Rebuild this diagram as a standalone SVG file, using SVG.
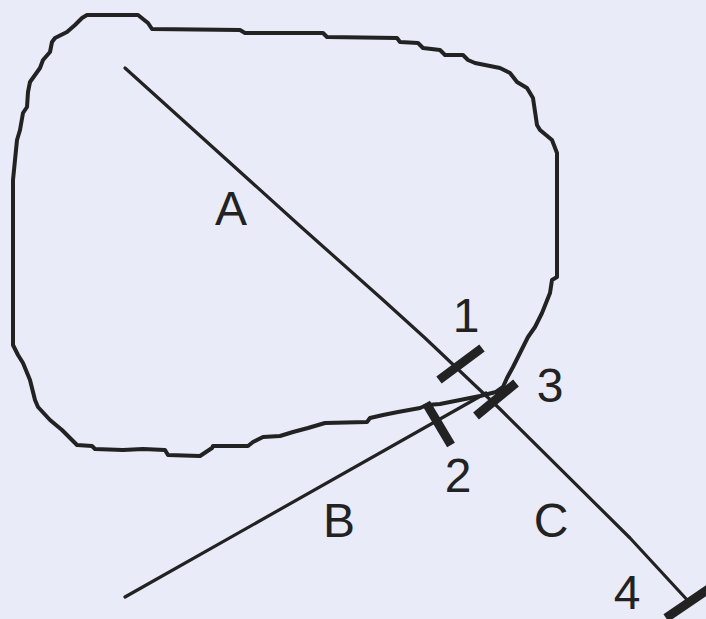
<svg xmlns="http://www.w3.org/2000/svg" width="706" height="619" viewBox="0 0 706 619">
<style>
.ol{fill:none;stroke:#222;stroke-width:4;stroke-linejoin:round}
.ln{fill:none;stroke:#222;stroke-width:3.2;stroke-linecap:round;stroke-linejoin:round}
.tk{stroke:#222;stroke-width:9;stroke-linecap:butt}
.lb{font-family:"Liberation Sans",Arial,sans-serif;font-size:48px;fill:#222;text-anchor:middle}
</style>
<rect width="706" height="619" fill="#e9ebf8"/>
<g id="outline">
<path class="ol" d="M87,15 L138,15 L148,23 L152,29 L240,30 L245,33 L323,33 L327,37 L397,38 L400,42 L418,43 L423,48 L440,50 L445,55 L463,55 L468,60 L475,63 L500,68 L510,73 L517,82 L527,88 L533,98 L537,125 L540,130 L552,140 L557,153 L557,277 L552,280 L550,293 L542,313 L535,327 L528,337 L520,353 L513,367 L507,378 L503,387 L496,392 L480,396 L460,400 L440,404 L427,405 L420,408 L398,412 L383,415 L370,418 L367,422 L325,423 L308,428 L293,432 L280,436 L263,437 L253,442 L248,446 L213,446 L212,448 L200,456 L168,455 L165,450 L143,449 L123,450 L95,449 L92,446 L77,445 L72,440 L62,430 L50,420 L38,407 L35,400 L30,380 L23,363 L18,355 L13,345 L13,200 L13,180 L15,160 L17,140 L20,130 L23,113 L27,107 L28,92 L30,82 L35,75 L40,68 L43,60 L50,52 L52,42 L55,38 L67,32 L75,25 L82,18 Z"/>
</g>
<g id="connectors">
<polyline id="lineA" class="ln" points="125,68 300,226 382,299 425,338 500,409 630,538 690,603"/>
<line id="lineB" class="ln" x1="125" y1="597" x2="486" y2="393"/>
</g>
<g id="ticks">
<line id="tick1" class="tk" x1="439" y1="380" x2="482" y2="348"/>
<line id="tick2" class="tk" x1="426" y1="403" x2="451" y2="445"/>
<line id="tick3" class="tk" x1="476" y1="416" x2="516" y2="383"/>
<line id="tick4" class="tk" x1="666" y1="618" x2="710" y2="588"/>
</g>
<g id="labels">
<text class="lb" x="231" y="225">A</text>
<text class="lb" x="339" y="537">B</text>
<text class="lb" x="551" y="537">C</text>
<text class="lb" x="466" y="332">1</text>
<text class="lb" x="458" y="492">2</text>
<text class="lb" x="550" y="402">3</text>
<text class="lb" x="627" y="609">4</text>
</g>
</svg>
